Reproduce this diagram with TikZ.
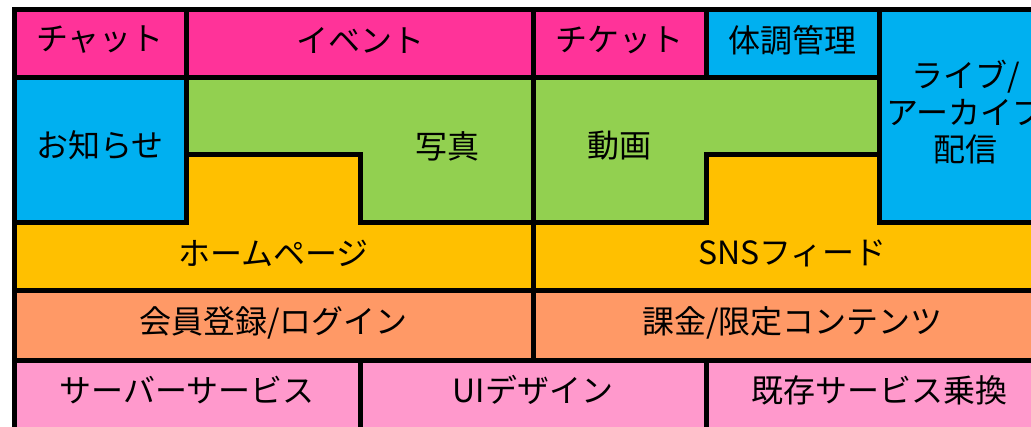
\documentclass[tikz,border=0pt]{standalone}
\usepackage{fontspec}
\setmainfont{Noto Sans CJK JP}
\definecolor{cpink}{HTML}{FF3399}
\definecolor{cblue}{HTML}{00B0F0}
\definecolor{cgreen}{HTML}{92D050}
\definecolor{cyellow}{HTML}{FFC000}
\definecolor{corange}{HTML}{FF9966}
\definecolor{clpink}{HTML}{FF99CC}
\begin{document}
\begin{tikzpicture}[x=1pt,y=-1pt,
  cell/.style={draw=black,line width=5pt,line join=miter},
  lbl/.style={font=\fontsize{32}{37}\selectfont,inner sep=0pt,align=center}]
\useasboundingbox (0,0) rectangle (1031,426);
\clip (0,0) rectangle (1031,426);
% columns: 14, 186.5, 360, 533, 706, 879, 1052
% rows: 9.5, 77, 154.5, 222, 290, 360, 430
% top row
\path[cell,fill=cpink] (14,9.5) rectangle (186.5,77);
\path[cell,fill=cpink] (186.5,9.5) rectangle (533,77);
\path[cell,fill=cpink] (533,9.5) rectangle (706,77);
\path[cell,fill=cblue] (706,9.5) rectangle (879,77);
\path[cell,fill=cblue] (879,9.5) rectangle (1052,222);
% second row
\path[cell,fill=cblue] (14,77) rectangle (186.5,222);
\path[cell,fill=cgreen] (186.5,77) -- (533,77) -- (533,222) -- (360,222) -- (360,154.5) -- (186.5,154.5) -- cycle;
\path[cell,fill=cgreen] (533,77) -- (879,77) -- (879,154.5) -- (706,154.5) -- (706,222) -- (533,222) -- cycle;
% yellow row
\path[cell,fill=cyellow] (14,222) -- (186.5,222) -- (186.5,154.5) -- (360,154.5) -- (360,222) -- (533,222) -- (533,290) -- (14,290) -- cycle;
\path[cell,fill=cyellow] (533,222) -- (706,222) -- (706,154.5) -- (879,154.5) -- (879,222) -- (1052,222) -- (1052,290) -- (533,290) -- cycle;
% orange row
\path[cell,fill=corange] (14,290) rectangle (533,360);
\path[cell,fill=corange] (533,290) rectangle (1052,360);
% bottom row
\path[cell,fill=clpink] (14,360) rectangle (360,432);
\path[cell,fill=clpink] (360,360) rectangle (706,432);
\path[cell,fill=clpink] (706,360) rectangle (1052,432);
% labels
\node[lbl] (chat) at (100,40) {チャット};
\node[lbl] (event) at (360,40) {イベント};
\node[lbl] (ticket) at (619.5,40) {チケット};
\node[lbl] (health) at (792.5,40) {体調管理};
\node[lbl] (live) at (965.5,112) {ライブ/\\アーカイブ\\配信};
\node[lbl] (notice) at (100,145) {お知らせ};
\node[lbl] (photo) at (447,146) {写真};
\node[lbl] (video) at (619.5,146) {動画};
\node[lbl] (home) at (273.5,253) {ホームページ};
\node[lbl] (sns) at (792.5,253) {SNSフィード};
\node[lbl] (member) at (273.5,323) {会員登録/ログイン};
\node[lbl] (pay) at (792.5,323) {課金/限定コンテンツ};
\node[lbl] (server) at (187,390) {サーバーサービス};
\node[lbl] (ui) at (533,390) {UIデザイン};
\node[lbl] (migr) at (879,390) {既存サービス乗換};
\end{tikzpicture}
\end{document}
